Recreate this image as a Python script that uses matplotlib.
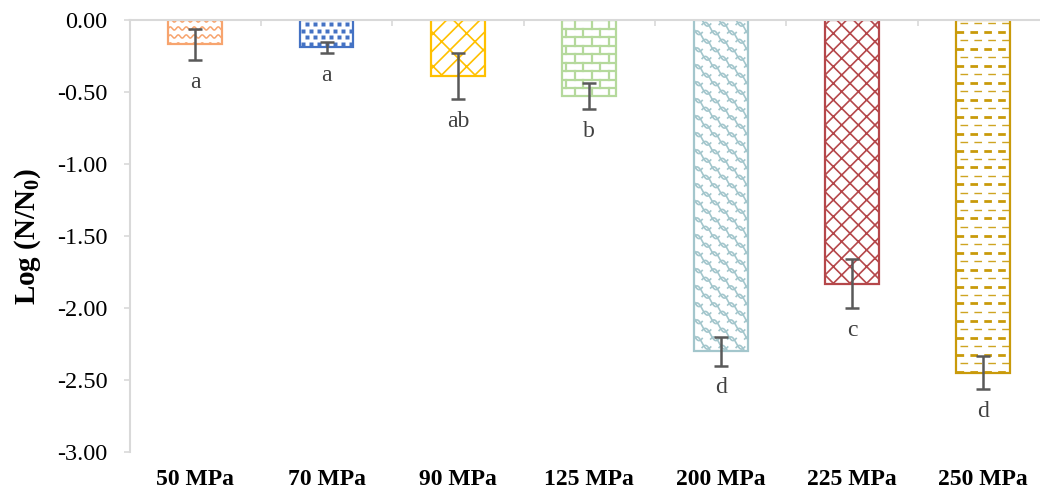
import numpy as np
import matplotlib.pyplot as plt

plt.rcParams['font.family'] = ['Liberation Serif', 'DejaVu Serif']
plt.rcParams['mathtext.fontset'] = 'custom'
plt.rcParams['mathtext.rm'] = 'Liberation Serif'
plt.rcParams['mathtext.bf'] = 'Liberation Serif:bold'
plt.rcParams['hatch.linewidth'] = 1.2
plt.rcParams['lines.scale_dashes'] = False

# pressure treatments and log reductions
pressures = ['50 MPa', '70 MPa', '90 MPa', '125 MPa', '200 MPa', '225 MPa', '250 MPa']
log_red = [-0.17, -0.19, -0.39, -0.53, -2.30, -1.83, -2.45]
sd = [0.11, 0.04, 0.16, 0.09, 0.10, 0.17, 0.115]
groups = ['a', 'a', 'ab', 'b', 'd', 'c', 'd']
colors = ['#F7A46E', '#4472C4', '#FFC000', '#B5D99C', '#A3C6CC', '#B5474A', '#C99A0A']

W, H = 1040, 491
fig = plt.figure(figsize=(W / 100, H / 100), dpi=100)
ax = fig.add_axes([129.5 / W, 1 - 452 / H, (1049 - 129.5) / W, 432 / H])

x = np.arange(len(pressures))
bw = 0.41
ax.set_xlim(-0.5, len(pressures) - 0.5)
ax.set_ylim(-3.0, 0.0)

# pixel sizes in data units, for the fill patterns
px = (len(pressures)) / (1049 - 129.5)
py = 3.0 / 432


def waves(ax, r, color, period, amp, gap, lw):
    x0, x1 = r.get_x(), r.get_x() + r.get_width()
    y0, y1 = r.get_y(), r.get_y() + r.get_height()
    xs = np.linspace(x0, x1, 200)
    rows = np.arange(min(y0, y1) - gap * py, max(y0, y1) + gap * py, gap * py)
    for yr in rows:
        ys = yr + amp * py * np.sin(2 * np.pi * (xs - x0) / (period * px))
        ln, = ax.plot(xs, ys, color=color, lw=lw, solid_capstyle='butt')
        ln.set_clip_path(r)


def scales(ax, r, color):
    # overlapping S-shaped curves, offset every other row
    x0, x1 = r.get_x(), r.get_x() + r.get_width()
    y0, y1 = sorted([r.get_y(), r.get_y() + r.get_height()])
    t = np.linspace(0, 1, 30)
    rows = np.arange(y1 + 4 * py, y0 - 10 * py, -8.5 * py)
    for k, yr in enumerate(rows):
        for xa in np.arange(x0 - 17 * px + (8.5 if k % 2 else 0) * px, x1, 17 * px):
            xs = xa + t * 17 * px
            ys = yr - 4 * py * (1 - np.cos(np.pi * t)) + 3 * py * np.sin(2 * np.pi * t)
            ln, = ax.plot(xs, ys, color=color, lw=1.2)
            ln.set_clip_path(r)


def squares(ax, r, color):
    x0, x1 = r.get_x(), r.get_x() + r.get_width()
    y0, y1 = sorted([r.get_y(), r.get_y() + r.get_height()])
    rows = np.arange(y1 - 4 * py, y0 - 6 * py, -6.5 * py)
    for k, yr in enumerate(rows):
        xs = np.arange(x0 + (3 if k % 2 else 7) * px, x1, 8 * px)
        ln, = ax.plot(xs, np.full_like(xs, yr), ls='none', marker='s',
                      ms=2.6, mfc=color, mec='none')
        ln.set_clip_path(r)


def bricks(ax, r, color):
    x0, x1 = r.get_x(), r.get_x() + r.get_width()
    y0, y1 = sorted([r.get_y(), r.get_y() + r.get_height()])
    rows = np.arange(y1, y0 - 9 * py, -8.5 * py)
    for k, yr in enumerate(rows):
        ln, = ax.plot([x0, x1], [yr, yr], color=color, lw=1.6)
        ln.set_clip_path(r)
        for xv in np.arange(x0 + (4 if k % 2 else 12.5) * px, x1, 17 * px):
            ln, = ax.plot([xv, xv], [yr, yr - 8.5 * py], color=color, lw=1.6)
            ln.set_clip_path(r)


def dashes(ax, r, color):
    x0, x1 = r.get_x(), r.get_x() + r.get_width()
    y0, y1 = sorted([r.get_y(), r.get_y() + r.get_height()])
    rows = np.arange(y1 - 3 * py, y0 - 9 * py, -8.5 * py)
    for k, yr in enumerate(rows):
        if k % 2:
            ln, = ax.plot([x0, x1], [yr, yr], color=color, lw=2.0,
                          dashes=(5.5, 4.5))
        else:
            ln, = ax.plot([x0 + 4 * px, x1], [yr, yr], color=color, lw=1.0,
                          alpha=0.9, dashes=(5.5, 4.5))
        ln.set_clip_path(r)


bars = ax.bar(x, log_red, width=bw, color='white', edgecolor=colors,
              linewidth=1.6, zorder=2)
for i, b in enumerate(bars):
    c = colors[i]
    if i == 0:
        waves(ax, b, c, 8, 1.6, 8, 1.1)
    elif i == 1:
        squares(ax, b, c)
    elif i == 2:
        b.set_hatch('//\\')
    elif i == 3:
        bricks(ax, b, c)
    elif i == 4:
        scales(ax, b, c)
    elif i == 5:
        b.set_hatch('xx')
    elif i == 6:
        dashes(ax, b, c)

ax.errorbar(x, log_red, yerr=sd, fmt='none', ecolor='#595959',
            elinewidth=1.8, capsize=5, capthick=1.8, zorder=4)

for i in range(len(x)):
    ax.text(x[i], log_red[i] - sd[i] - 0.155, groups[i], ha='center',
            va='center', fontsize=17, color='#404040')

# axes styling
for s in ['bottom', 'right']:
    ax.spines[s].set_visible(False)
for s in ['top', 'left']:
    ax.spines[s].set_color('#D9D9D9')
    ax.spines[s].set_linewidth(1.5)

ax.set_yticks(np.arange(-3.0, 0.01, 0.5))
ax.set_yticklabels([f'{v:.2f}' for v in np.arange(-3.0, 0.01, 0.5)])
ax.tick_params(axis='y', length=4, width=1.2, color='#D9D9D9',
               labelsize=17.5, pad=12)
ax.set_xticks(x)
ax.set_xticklabels(pressures, fontsize=17, fontweight='bold')
ax.tick_params(axis='x', which='major', length=0, pad=12)
ax.set_xticks(x[:-1] + 0.5, minor=True)
ax.tick_params(axis='x', which='minor', top=True, bottom=False,
               direction='in', length=4, width=1.2, color='#D9D9D9')

ax.set_ylabel('Log (N/N$_\\mathbf{0}$)', fontsize=21, fontweight='bold',
              labelpad=10)

fig.savefig('out.png', dpi=100)
